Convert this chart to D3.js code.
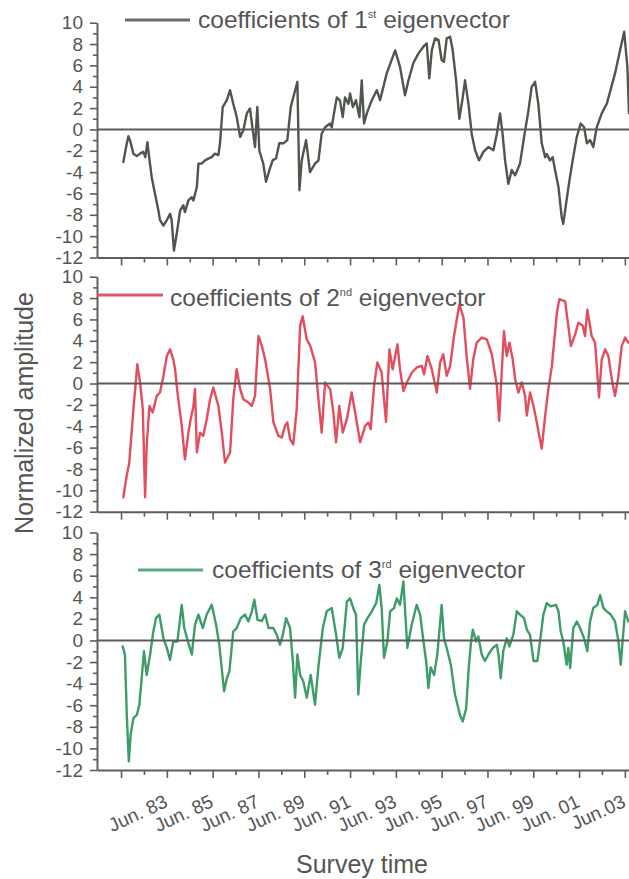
<!DOCTYPE html>
<html>
<head>
<meta charset="utf-8">
<script src="https://cdn.jsdelivr.net/npm/d3@7"></script>
<style>
  html, body { margin: 0; padding: 0; background: #ffffff; }
  svg { display: block; }
  text { font-family: "Liberation Sans", Arial, Helvetica, sans-serif; fill: #555; }
</style>
</head>
<body>
<svg id="chart" width="629" height="879"></svg>
<script>
// Time is in decimal years; June of year Y sits at Y + 0.5.
const firstEigen = [
  [1981.60,-3.05],[1981.72,-1.65],[1981.82,-0.64],[1981.89,-1.0],[1982.04,-2.27],[1982.19,-2.5],
  [1982.33,-2.27],[1982.47,-2.1],[1982.56,-2.6],[1982.65,-1.2],[1982.74,-2.8],[1982.84,-4.5],
  [1982.98,-6.0],[1983.13,-7.6],[1983.20,-8.5],[1983.35,-9.0],[1983.50,-8.5],[1983.64,-7.9],
  [1983.71,-8.5],[1983.81,-11.35],[1983.93,-9.8],[1984.08,-7.6],[1984.22,-7.1],[1984.29,-7.75],
  [1984.44,-6.65],[1984.59,-6.35],[1984.66,-6.65],[1984.81,-5.4],[1984.88,-3.2],[1985.02,-3.2],
  [1985.17,-2.9],[1985.31,-2.74],[1985.46,-2.6],[1985.60,-2.27],[1985.75,-2.4],[1985.82,-1.3],
  [1985.94,2.1],[1986.12,2.74],[1986.26,3.68],[1986.40,2.4],[1986.55,1.17],[1986.70,-0.7],
  [1986.84,-0.07],[1986.99,1.5],[1987.13,1.96],[1987.25,-0.07],[1987.35,-1.65],[1987.45,2.1],
  [1987.54,-2.0],[1987.71,-3.2],[1987.83,-4.9],[1987.98,-3.8],[1988.12,-2.9],[1988.27,-2.7],
  [1988.41,-1.3],[1988.59,-1.3],[1988.76,-1.0],[1988.91,2.1],[1989.02,3.0],[1989.20,4.46],
  [1989.29,-5.7],[1989.39,-2.9],[1989.58,-1.0],[1989.75,-4.0],[1989.97,-3.2],[1990.12,-2.9],
  [1990.26,-0.4],[1990.41,0.2],[1990.63,0.55],[1990.70,0.2],[1990.77,1.15],[1990.92,3.0],
  [1991.06,2.7],[1991.18,1.15],[1991.28,3.0],[1991.43,2.4],[1991.50,3.37],[1991.62,2.1],
  [1991.76,2.74],[1991.91,1.15],[1992.01,4.6],[1992.11,0.55],[1992.23,1.5],[1992.45,2.74],
  [1992.67,3.68],[1992.81,2.74],[1993.10,5.25],[1993.47,7.4],[1993.68,5.87],[1993.90,3.2],
  [1994.05,4.6],[1994.26,6.2],[1994.48,7.1],[1994.70,7.75],[1994.85,8.06],[1994.96,4.78],
  [1995.07,7.43],[1995.21,8.53],[1995.36,8.4],[1995.50,6.5],[1995.60,6.34],[1995.72,8.53],
  [1995.87,8.68],[1995.98,7.43],[1996.13,4.6],[1996.27,1.0],[1996.42,3.0],[1996.52,4.6],
  [1996.67,2.4],[1996.81,-0.4],[1996.96,-1.95],[1997.13,-2.9],[1997.32,-2.1],[1997.54,-1.65],
  [1997.76,-1.95],[1997.91,-0.4],[1998.05,1.5],[1998.15,-0.23],[1998.27,-2.9],[1998.41,-5.1],
  [1998.56,-3.8],[1998.71,-4.3],[1998.92,-3.2],[1999.10,-0.7],[1999.29,1.8],[1999.43,3.98],
  [1999.58,4.46],[1999.72,2.4],[1999.87,-1.3],[2000.02,-2.6],[2000.09,-2.3],[2000.23,-2.9],
  [2000.35,-2.6],[2000.45,-3.8],[2000.60,-5.4],[2000.74,-8.2],[2000.81,-8.85],[2000.93,-7.0],
  [2001.08,-4.78],[2001.22,-2.9],[2001.40,-0.7],[2001.57,0.55],[2001.72,0.2],[2001.84,-1.3],
  [2001.98,-1.0],[2002.12,-1.65],[2002.27,0.2],[2002.49,1.5],[2002.71,2.4],[2003.07,5.25],
  [2003.29,7.43],[2003.47,9.15],[2003.61,5.87],[2003.68,1.5]
];

const secondEigen = [
  [1981.60,-10.65],[1981.75,-8.6],[1981.86,-7.4],[1982.04,-2.4],[1982.21,1.8],[1982.33,0.1],
  [1982.45,-2.4],[1982.55,-10.65],[1982.62,-5.8],[1982.74,-2.1],[1982.88,-2.7],[1983.06,-1.16],
  [1983.20,-0.84],[1983.35,0.7],[1983.50,2.58],[1983.64,3.2],[1983.78,2.27],[1983.86,1.34],
  [1983.93,-0.2],[1984.00,-1.47],[1984.15,-3.96],[1984.29,-7.1],[1984.44,-4.6],[1984.54,-3.35],
  [1984.66,-2.1],[1984.73,-0.5],[1984.81,-6.45],[1984.95,-4.6],[1985.09,-4.9],[1985.24,-3.35],
  [1985.39,-1.47],[1985.53,-0.37],[1985.75,-2.1],[1985.90,-4.6],[1986.04,-7.4],[1986.26,-6.45],
  [1986.40,-1.47],[1986.55,1.34],[1986.70,-0.5],[1986.84,-1.47],[1987.06,-1.78],[1987.21,-2.1],
  [1987.35,-1.16],[1987.50,4.45],[1987.65,3.5],[1987.79,2.27],[1988.01,-0.5],[1988.15,-3.6],
  [1988.37,-4.9],[1988.52,-5.05],[1988.66,-3.96],[1988.76,-3.65],[1988.88,-5.2],[1989.02,-5.7],
  [1989.17,-2.4],[1989.32,5.4],[1989.43,6.3],[1989.61,4.1],[1989.75,3.6],[1989.97,2.0],
  [1990.12,-1.47],[1990.26,-4.6],[1990.41,0.1],[1990.63,-0.53],[1990.77,-2.7],[1990.89,-5.5],
  [1991.03,-2.1],[1991.18,-4.6],[1991.36,-3.34],[1991.57,-0.84],[1991.72,-2.7],[1991.94,-5.5],
  [1992.16,-3.96],[1992.30,-3.65],[1992.40,-4.27],[1992.55,-0.2],[1992.69,1.96],[1992.88,1.03],
  [1993.07,-3.6],[1993.22,3.2],[1993.36,1.34],[1993.57,3.67],[1993.68,1.34],[1993.83,-0.7],
  [1993.98,0.1],[1994.20,1.03],[1994.41,1.5],[1994.63,1.65],[1994.73,0.87],[1994.88,2.58],
  [1995.07,1.34],[1995.29,-0.84],[1995.43,1.96],[1995.57,2.74],[1995.72,0.71],[1995.87,1.65],
  [1996.04,4.45],[1996.27,7.4],[1996.45,6.2],[1996.59,2.58],[1996.74,-0.5],[1996.88,2.27],
  [1997.03,3.83],[1997.25,4.3],[1997.47,4.14],[1997.69,2.74],[1997.91,-0.22],[1998.01,-3.5],
  [1998.12,1.0],[1998.22,4.9],[1998.34,2.58],[1998.46,3.83],[1998.60,2.27],[1998.71,0.4],
  [1998.85,-0.84],[1999.00,0.1],[1999.14,-1.16],[1999.22,-3.0],[1999.36,-0.84],[1999.51,-2.1],
  [1999.65,-3.6],[1999.87,-6.1],[2000.02,-3.0],[2000.16,-0.5],[2000.31,1.6],[2000.53,6.6],
  [2000.64,7.9],[2000.89,7.7],[2001.03,5.4],[2001.14,3.5],[2001.33,4.6],[2001.47,5.7],
  [2001.66,5.4],[2001.76,4.45],[2001.86,6.9],[2002.05,4.45],[2002.20,3.83],[2002.37,-1.3],
  [2002.49,2.27],[2002.64,3.2],[2002.78,2.58],[2002.93,0.4],[2003.07,-1.16],[2003.22,0.7],
  [2003.36,3.5],[2003.51,4.3],[2003.65,3.83]
];

const thirdEigen = [
  [1981.57,-0.55],[1981.67,-1.3],[1981.75,-6.9],[1981.84,-11.2],[1981.92,-8.7],[1982.04,-7.2],
  [1982.19,-6.9],[1982.30,-5.95],[1982.40,-3.5],[1982.50,-1.0],[1982.62,-3.2],[1982.77,-1.3],
  [1982.91,0.83],[1983.03,2.07],[1983.17,2.4],[1983.35,0.2],[1983.50,-0.7],[1983.64,-1.8],
  [1983.78,-0.1],[1983.96,-0.1],[1984.15,3.3],[1984.26,1.15],[1984.44,-0.24],[1984.59,-1.3],
  [1984.73,1.45],[1984.88,2.4],[1985.07,1.15],[1985.24,2.4],[1985.46,3.3],[1985.65,1.45],
  [1985.79,-0.4],[1985.94,-3.5],[1986.00,-4.7],[1986.12,-3.5],[1986.23,-2.87],[1986.40,0.83],
  [1986.55,1.15],[1986.73,2.07],[1986.91,2.4],[1987.06,1.76],[1987.21,2.68],[1987.32,3.77],
  [1987.46,1.9],[1987.65,1.8],[1987.79,2.4],[1987.94,1.15],[1988.15,1.15],[1988.30,0.53],
  [1988.44,-0.4],[1988.56,0.5],[1988.71,2.07],[1988.88,1.15],[1989.00,-1.9],[1989.10,-5.3],
  [1989.20,-1.3],[1989.32,-3.2],[1989.46,-3.8],[1989.61,-5.3],[1989.78,-3.2],[1989.97,-5.95],
  [1990.12,-2.4],[1990.31,1.15],[1990.48,2.7],[1990.70,3.0],[1990.89,0.53],[1991.03,-1.6],
  [1991.18,-0.7],[1991.36,3.6],[1991.50,3.9],[1991.64,3.0],[1991.76,2.38],[1991.86,-5.0],
  [1991.97,-1.9],[1992.11,1.45],[1992.26,2.07],[1992.45,2.7],[1992.64,3.46],[1992.78,5.15],
  [1992.88,3.0],[1992.98,-1.6],[1993.13,-0.1],[1993.25,2.7],[1993.42,3.0],[1993.54,3.9],
  [1993.68,3.3],[1993.83,5.46],[1993.94,1.45],[1994.00,-0.7],[1994.19,1.45],[1994.41,3.3],
  [1994.56,2.4],[1994.70,0.0],[1994.82,-1.9],[1994.92,-4.4],[1995.02,-2.5],[1995.17,-3.2],
  [1995.31,-1.3],[1995.50,3.3],[1995.60,0.22],[1995.72,-0.7],[1995.90,-2.25],[1996.08,-5.0],
  [1996.30,-6.9],[1996.42,-7.5],[1996.57,-6.3],[1996.67,-2.87],[1996.77,-0.4],[1996.86,1.0],
  [1997.00,-0.1],[1997.10,0.37],[1997.25,-1.3],[1997.39,-1.9],[1997.54,-1.3],[1997.73,-0.7],
  [1997.91,-0.4],[1997.98,-1.3],[1998.08,-3.5],[1998.19,-1.0],[1998.34,0.2],[1998.46,-0.55],
  [1998.63,0.53],[1998.78,2.7],[1998.92,2.4],[1999.10,2.07],[1999.22,1.0],[1999.36,0.5],
  [1999.51,-1.9],[1999.68,-1.9],[1999.83,0.5],[1999.94,2.4],[2000.09,3.46],[2000.26,3.15],
  [2000.49,3.3],[2000.60,2.7],[2000.70,0.83],[2000.81,-0.1],[2000.96,-2.25],[2001.03,-0.7],
  [2001.11,-2.55],[2001.25,1.15],[2001.40,1.76],[2001.54,1.15],[2001.72,0.2],[2001.86,-1.0],
  [2001.98,1.76],[2002.12,3.0],[2002.30,3.3],[2002.42,4.2],[2002.56,3.0],[2002.71,2.7],
  [2002.88,2.4],[2003.07,1.76],[2003.22,-0.1],[2003.32,-2.25],[2003.41,0.2],[2003.51,2.7],
  [2003.65,1.76]
];

const yTickValues = d3.range(-12, 11);            // every unit, labels on even values
const xTickYears = d3.range(1981, 2004);          // a tick at June of every year
const xLabelYears = [1983, 1985, 1987, 1989, 1991, 1993, 1995, 1997, 1999, 2001, 2003];
const xTickLabels = ["Jun. 83", "Jun. 85", "Jun. 87", "Jun. 89", "Jun. 91", "Jun. 93",
                     "Jun. 95", "Jun. 97", "Jun. 99", "Jun. 01", "Jun.03"];
const seriesNumbers = ["1", "2", "3"];
const seriesOrdinals = ["st", "nd", "rd"];
const yAxisTitle = "Normalized amplitude";
const xAxisTitle = "Survey time";

const svg = d3.select("#chart");
const W = 629, H = 879;
svg.append("rect").attr("width", W).attr("height", H).attr("fill", "#ffffff");

const X0 = 97, X1 = 629;
const x = d3.scaleLinear().domain([1980.45, 2003.68]).range([X0, X1]);

const axisColor = "#5e5e5e";

const panels = [
  { data: firstEigen,  color: "#4f564c", legendColor: "#6c6c6c", top: 22.7, bottom: 257.5,
    legend: { x1: 125, x2: 190, ly: 20,  tx: 198, ty: 28 } },
  { data: secondEigen, color: "#e34d5d", legendColor: "#e05565", top: 276.7, bottom: 511.7,
    legend: { x1: 97,  x2: 163, ly: 295, tx: 170, ty: 306 } },
  { data: thirdEigen,  color: "#3e9c68", legendColor: "#5aa97f", top: 532.5, bottom: 770,
    legend: { x1: 138, x2: 203, ly: 570, tx: 212, ty: 578 } }
];

panels.forEach((p, i) => {
  const y = d3.scaleLinear().domain([-12, 10]).range([p.bottom, p.top]);
  const g = svg.append("g");

  g.append("clipPath").attr("id", "clip" + i)
    .append("rect")
    .attr("x", X0).attr("y", p.top - 20)
    .attr("width", X1 - X0).attr("height", p.bottom - p.top + 20);

  // series
  g.append("path")
    .datum(p.data)
    .attr("clip-path", `url(#clip${i})`)
    .attr("fill", "none")
    .attr("stroke", p.color)
    .attr("stroke-width", 2.4)
    .attr("stroke-linejoin", "round")
    .attr("stroke-linecap", "round")
    .attr("d", d3.line().x(d => x(d[0])).y(d => y(d[1])));

  // zero reference line
  g.append("line")
    .attr("x1", X0).attr("x2", X1)
    .attr("y1", y(0)).attr("y2", y(0))
    .attr("stroke", "#5a5a5a")
    .attr("stroke-width", 2);

  // left axis
  const ya = g.append("g")
    .attr("transform", `translate(${X0},0)`)
    .call(d3.axisLeft(y)
      .tickValues(yTickValues)
      .tickSize(7)
      .tickSizeOuter(0)
      .tickPadding(7)
      .tickFormat(d => (d % 2 === 0 ? String(d) : "")));
  ya.select(".domain").attr("stroke", axisColor).attr("stroke-width", 2);
  ya.selectAll(".tick line").attr("stroke", axisColor).attr("stroke-width", 1.6);
  ya.selectAll(".tick line").filter(d => d % 2 !== 0).attr("x2", -4);
  ya.selectAll(".tick text")
    .attr("font-size", 19)
    .attr("font-family", "Liberation Sans, Arial, sans-serif")
    .attr("fill", "#555");

  // bottom axis
  const xa = g.append("g")
    .attr("transform", `translate(0,${p.bottom})`)
    .call(d3.axisBottom(x)
      .tickValues(xTickYears.map(yr => yr + 0.5))
      .tickSize(8)
      .tickSizeOuter(0)
      .tickFormat(""));
  xa.select(".domain").attr("stroke", axisColor).attr("stroke-width", 2);
  xa.selectAll(".tick line").attr("stroke", axisColor).attr("stroke-width", 1.6);
  xa.selectAll(".tick line").filter(d => Math.round(d - 0.5) % 2 === 0).attr("y2", 5);

  // legend
  g.append("line")
    .attr("x1", p.legend.x1).attr("x2", p.legend.x2)
    .attr("y1", p.legend.ly).attr("y2", p.legend.ly)
    .attr("stroke", p.legendColor)
    .attr("stroke-width", 3);
  const t = g.append("text")
    .attr("x", p.legend.tx).attr("y", p.legend.ty)
    .attr("font-size", 24.5)
    .attr("fill", "#555");
  t.append("tspan").text("coefficients of " + seriesNumbers[i]);
  t.append("tspan").attr("font-size", 11).attr("dy", -10).text(seriesOrdinals[i]);
  t.append("tspan").attr("dy", 10).text(" eigenvector");

  // date labels under the last panel
  if (i === panels.length - 1) {
    g.selectAll(".xlabel")
      .data(xLabelYears)
      .join("text")
      .attr("class", "xlabel")
      .attr("text-anchor", "end")
      .attr("font-size", 19)
      .attr("fill", "#555")
      .attr("transform", d => `translate(${x(d + 0.5) + 2},${p.bottom + 36}) rotate(-25)`)
      .text((d, k) => xTickLabels[k]);
  }
});

// axis titles
svg.append("text")
  .attr("transform", "translate(33,413) rotate(-90)")
  .attr("text-anchor", "middle")
  .attr("font-size", 25)
  .attr("fill", "#555")
  .text(yAxisTitle);

svg.append("text")
  .attr("x", 362).attr("y", 873)
  .attr("text-anchor", "middle")
  .attr("font-size", 25)
  .attr("fill", "#555")
  .text(xAxisTitle);
</script>
</body>
</html>
